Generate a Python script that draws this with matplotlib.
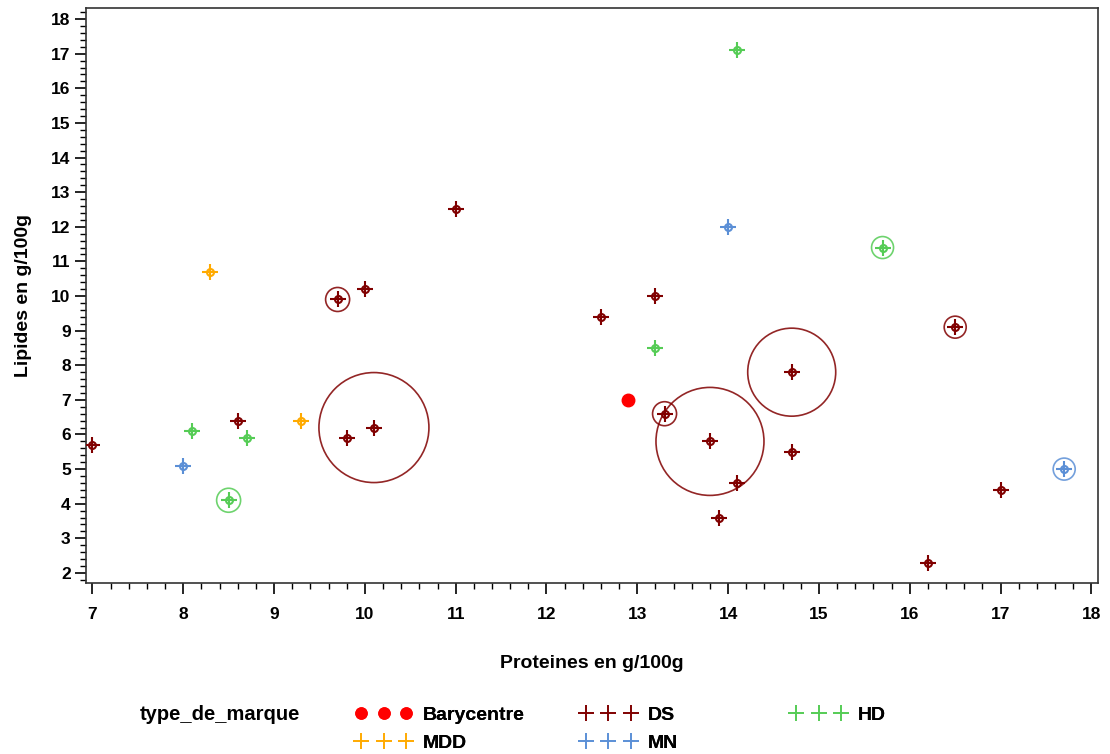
import matplotlib
matplotlib.use("Agg")
import matplotlib.pyplot as plt
from matplotlib.lines import Line2D
from matplotlib.ticker import MultipleLocator
import numpy as np

plt.rcParams['font.family'] = ['Liberation Sans', 'DejaVu Sans']
plt.rcParams['font.weight'] = 'bold'
plt.rcParams['axes.labelweight'] = 'bold'

# donnees par type de marque
ds_x = [7.0, 8.6, 9.7, 9.8, 10.0, 10.1, 11.0, 12.6, 13.2, 13.3, 13.8, 13.9, 14.1, 14.7, 14.7, 16.2, 16.5, 17.0]
ds_y = [5.7, 6.4, 9.9, 5.9, 10.2, 6.2, 12.5, 9.4, 10.0, 6.6, 5.8, 3.6, 4.6, 7.8, 5.5, 2.3, 9.1, 4.4]
ds_bulle = [0, 0, 12, 0, 0, 55, 0, 0, 0, 12, 54, 0, 0, 44, 0, 0, 11, 0]

hd_x = [8.1, 8.5, 8.7, 13.2, 14.1, 15.7]
hd_y = [6.1, 4.1, 5.9, 8.5, 17.1, 11.4]
hd_bulle = [0, 12, 0, 0, 0, 11]

mdd_x = [8.3, 9.3]
mdd_y = [10.7, 6.4]
mdd_bulle = [0, 0]

mn_x = [8.0, 14.0, 17.7]
mn_y = [5.1, 12.0, 5.0]
mn_bulle = [0, 0, 11]

bary_x = [12.9]
bary_y = [7.0]

col_ds = '#800000'
col_hd = '#55cc55'
col_mdd = '#ffaa00'
col_mn = '#5b8fd6'
col_bary = '#ff0000'

fig = plt.figure(figsize=(11.1, 7.54), dpi=100)
ax = fig.add_axes([0.0775, 0.2268, 0.9115, 0.7626])

groupes = [
    (ds_x, ds_y, ds_bulle, col_ds),
    (hd_x, hd_y, hd_bulle, col_hd),
    (mdd_x, mdd_y, mdd_bulle, col_mdd),
    (mn_x, mn_y, mn_bulle, col_mn),
]
for gx, gy, gb, c in groupes:
    gx = np.array(gx)
    gy = np.array(gy)
    gb = np.array(gb, dtype=float)
    m = gb > 0
    # bulles: rayon en pixels -> taille en points^2
    diam_pt = 2 * gb[m] * 72 / 100
    ax.scatter(gx[m], gy[m], s=diam_pt ** 2, facecolors='none',
               edgecolors=c, linewidths=1.2, alpha=0.85, zorder=2)
    ax.plot(gx, gy, linestyle='none', marker='+', color=c, markersize=11,
            markeredgewidth=1.5, zorder=3)
    ax.plot(gx, gy, linestyle='none', marker='o', markerfacecolor='none',
            markeredgecolor=c, markersize=5, markeredgewidth=1.5, zorder=3)

ax.plot(bary_x, bary_y, linestyle='none', marker='o', color=col_bary,
        markersize=9, zorder=4)

ax.set_xlim(6.93, 18.07)
ax.set_ylim(1.71, 18.32)
ax.xaxis.set_major_locator(MultipleLocator(1))
ax.xaxis.set_minor_locator(MultipleLocator(0.2))
ax.yaxis.set_major_locator(MultipleLocator(1))
ax.yaxis.set_minor_locator(MultipleLocator(0.2))
ax.tick_params(which='major', length=8, width=1.2, labelsize=12.5, pad=9)
ax.tick_params(axis='y', which='major', pad=3)
ax.tick_params(which='minor', length=4, width=1)
for s in ax.spines.values():
    s.set_linewidth(1.2)
    s.set_color('#333333')

ax.set_xlabel('Proteines en g/100g', fontsize=14, labelpad=24)
ax.set_ylabel('Lipides en g/100g', fontsize=14, labelpad=14)

# legende en bas : une legende par colonne
fig.text(0.126, 0.052, 'type_de_marque', fontsize=14.5, va='center')


def plus(c):
    return Line2D([], [], linestyle='none', marker='+', color=c,
                  markersize=11, markeredgewidth=1.2)


colonnes = [
    ([Line2D([], [], linestyle='none', marker='o', color=col_bary, markersize=8),
      plus(col_mdd)], ['Barycentre', 'MDD'], 0.3046),
    ([plus(col_ds), plus(col_mn)], ['DS', 'MN'], 0.507),
    ([plus(col_hd)], ['HD'], 0.6965),
]
for h, lab, x0 in colonnes:
    leg = fig.legend(h, lab, loc='upper left', bbox_to_anchor=(x0, 0.086),
                     numpoints=3, frameon=False, fontsize=14,
                     handlelength=2.9, handletextpad=0.55, labelspacing=0.5)
    fig.add_artist(leg)

fig.savefig('out.png', dpi=100)
